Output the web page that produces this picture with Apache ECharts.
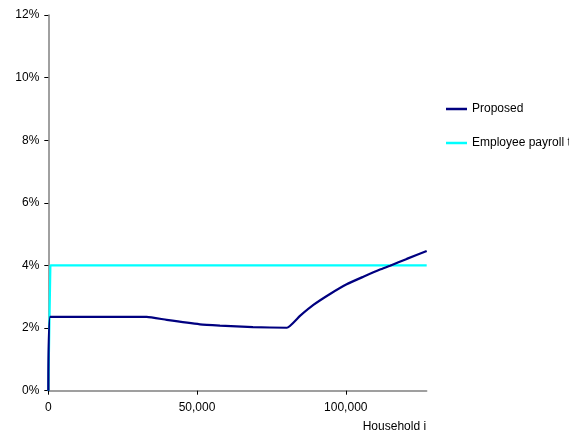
<!DOCTYPE html>
<html><head><meta charset="utf-8">
<script src="https://cdn.jsdelivr.net/npm/echarts@6/dist/echarts.min.js"></script>
<style>html,body{margin:0;padding:0;background:#fff}#c{width:569px;height:439px}</style>
</head><body><div id="c"></div>
<script>
var proposedX = [0, 600, 33100, 39800, 51000, 57700, 68800, 80200, 84600, 89100, 94700, 100300, 105900, 111500, 114900, 120500, 127200];
var proposedY = [0, 2.36, 2.36, 2.26, 2.12, 2.08, 2.03, 2.01, 2.39, 2.74, 3.09, 3.40, 3.64, 3.87, 3.99, 4.21, 4.46];
var payrollX = [0, 700, 127200];
var payrollY = [0, 4.0, 4.0];
var seriesNames = ['Proposed', 'Employee payroll tax'];
var xAxisName = 'Household income';

function pairs(xs, ys){ return xs.map(function(x,i){ return [x, ys[i]]; }); }

var chart = echarts.init(document.getElementById('c'));
var font = 'Liberation Sans, Arial, sans-serif';
chart.setOption({
  animation: false,
  grid: { left: 48.3, right: 142.3, top: 15, bottom: 48.3, containLabel: false },
  legend: {
    orient: 'vertical', left: 441, top: 98, itemGap: 22, width: 300,
    itemWidth: 21, itemHeight: 2.5, icon: 'rect',
    textStyle: { fontFamily: font, fontSize: 12, color: '#000', width: 200, overflow: 'none' },
    data: seriesNames
  },
  xAxis: {
    type: 'value', min: 0, max: 127200, interval: 50000,
    splitLine: { show: false },
    axisLine: { lineStyle: { color: '#808080', width: 1.5 } },
    axisTick: { show: true, length: 4, inside: false, lineStyle: { color: '#000' } },
    axisLabel: {
      margin: 11, fontFamily: font, fontSize: 12, color: '#000',
      showMaxLabel: false,
      formatter: function(v){ return v.toLocaleString('en-US'); }
    },
    name: xAxisName, nameLocation: 'end', nameGap: -64,
    nameTruncate: { maxWidth: 67, ellipsis: '' },
    nameTextStyle: { fontFamily: font, fontSize: 12, color: '#000', align: 'left', verticalAlign: 'top',
      padding: [30,0,0,0] }
  },
  yAxis: {
    type: 'value', min: 0, max: 12, interval: 2,
    splitLine: { show: false },
    axisLine: { show: true, lineStyle: { color: '#808080', width: 1.5 } },
    axisTick: { show: true, length: 4, inside: false, lineStyle: { color: '#000' } },
    axisLabel: { margin: 9, fontFamily: font, fontSize: 12, color: '#000', formatter: '{value}%' }
  },
  series: [
    { name: seriesNames[0], type: 'line', data: pairs(proposedX, proposedY), showSymbol: false, symbol: 'none',
      smooth: 0.15,
      lineStyle: { color: '#000080', width: 2.2 }, itemStyle: { color: '#000080' }, z: 3 },
    { name: seriesNames[1], type: 'line', data: pairs(payrollX, payrollY), showSymbol: false, symbol: 'none',
      lineStyle: { color: '#00FFFF', width: 2.2 }, itemStyle: { color: '#00FFFF' }, z: 2 }
  ]
});
</script></body></html>
